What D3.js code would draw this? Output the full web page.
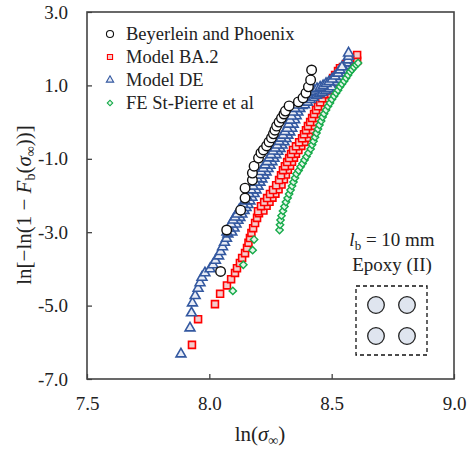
<!DOCTYPE html>
<html>
<head>
<meta charset="utf-8">
<script src="https://cdn.jsdelivr.net/npm/d3@7"></script>
<style>
  body { margin: 0; background: #fff; }
  text { font-family: "Liberation Serif", "Times New Roman", serif; fill: #222; }
</style>
</head>
<body>
<script>
// data: [ln(sigma), ln(-ln(1-F))]
var beyerlein = [[8.046,-4.07],[8.071,-2.94],[8.128,-2.40],[8.146,-2.07],[8.146,-1.80],[8.176,-1.58],
  [8.176,-1.39],[8.183,-1.20],[8.201,-0.98],[8.211,-0.84],[8.221,-0.76],[8.234,-0.65],[8.244,-0.54],
  [8.254,-0.43],[8.262,-0.32],[8.268,-0.22],[8.275,-0.11],[8.285,0.00],[8.295,0.11],[8.305,0.22],
  [8.311,0.30],[8.326,0.44],[8.364,0.55],[8.383,0.66],[8.395,0.79],[8.405,0.96],[8.414,1.15],[8.418,1.42]];

var modelBA2 = [[7.929,-6.07],[7.954,-5.37],[8.023,-4.96],[8.044,-4.68],[8.072,-4.45],[8.089,-4.28],
  [8.105,-4.11],[8.113,-3.98],[8.125,-3.84],[8.134,-3.70],[8.146,-3.57],[8.154,-3.43],[8.160,-3.29],
  [8.166,-3.16],[8.172,-3.02],[8.179,-2.89],[8.187,-2.75],[8.195,-2.61],[8.203,-2.48],[8.215,-2.34],
  [8.228,-2.23],[8.240,-2.12],[8.252,-2.01],[8.264,-1.90],[8.277,-1.77],[8.289,-1.63],[8.297,-1.50],
  [8.305,-1.36],[8.313,-1.25],[8.322,-1.14],[8.330,-1.03],[8.338,-0.92],[8.346,-0.81],[8.358,-0.71],
  [8.371,-0.60],[8.383,-0.49],[8.391,-0.38],[8.399,-0.27],[8.407,-0.16],[8.416,-0.05],[8.424,0.06],
  [8.432,0.17],[8.440,0.28],[8.448,0.38],[8.457,0.49],[8.465,0.60],[8.473,0.71],[8.481,0.82],
  [8.493,0.93],[8.501,1.04],[8.510,1.15],[8.518,1.23],[8.530,1.34],[8.538,1.42],[8.546,1.50],
  [8.559,1.58],[8.571,1.67],[8.583,1.75],[8.604,1.67],[8.604,1.83],
  [8.221,-2.41],[8.234,-2.28],[8.246,-2.17],[8.258,-2.06],[8.270,-1.95],[8.283,-1.83],[8.295,-1.70],
  [8.305,-1.56],[8.313,-1.43],[8.321,-1.30],[8.330,-1.19],[8.338,-1.08],[8.346,-0.97],[8.354,-0.86],
  [8.364,-0.76],[8.376,-0.65],[8.389,-0.54],[8.399,-0.43],[8.407,-0.32],[8.415,-0.21],[8.423,-0.10],
  [8.432,0.00],[8.440,0.11],[8.448,0.22],[8.456,0.33],[8.464,0.43],[8.473,0.54],[8.481,0.65],
  [8.489,0.76],[8.499,0.87],[8.509,0.98],[8.518,1.09],[8.526,1.19],[8.536,1.28],[8.546,1.38],
  [8.199,-2.43],[8.211,-2.29],[8.224,-2.18],[8.236,-2.07],[8.248,-1.96],[8.260,-1.85],[8.273,-1.72],
  [8.285,-1.58],[8.293,-1.45],[8.301,-1.31],[8.309,-1.20],[8.318,-1.09],[8.326,-0.98],[8.334,-0.87],
  [8.342,-0.76],[8.354,-0.66],[8.367,-0.55],[8.379,-0.44],[8.387,-0.33],[8.395,-0.22],[8.403,-0.11],
  [8.412,0.00],[8.420,0.11],[8.428,0.22],[8.436,0.33],[8.444,0.43],[8.453,0.54],[8.461,0.65],
  [8.469,0.76],[8.477,0.87],[8.489,0.98],[8.497,1.09],[8.506,1.20],[8.514,1.28],[8.526,1.39],[8.534,1.47]];

var modelDE = [[7.884,-6.32],[7.921,-5.61],[7.927,-5.20],[7.931,-4.93],[7.942,-4.73],[7.954,-4.53],
  [7.962,-4.38],[7.970,-4.23],[7.982,-4.11],[8.003,-4.00],[8.015,-3.89],[8.025,-3.77],[8.038,-3.65],
  [8.046,-3.53],[8.054,-3.40],[8.062,-3.28],[8.070,-3.17],[8.076,-3.05],[8.085,-2.94],[8.093,-2.83],
  [8.101,-2.72],[8.109,-2.64],[8.117,-2.56],[8.125,-2.45],[8.134,-2.37],[8.142,-2.29],[8.150,-2.20],
  [8.158,-2.10],[8.166,-2.00],[8.175,-1.90],[8.183,-1.80],[8.191,-1.69],[8.199,-1.59],[8.207,-1.50],
  [8.215,-1.40],[8.224,-1.31],[8.232,-1.22],[8.240,-1.13],[8.248,-1.03],[8.256,-0.94],[8.264,-0.84],
  [8.273,-0.76],[8.281,-0.68],[8.289,-0.58],[8.297,-0.49],[8.305,-0.41],[8.313,-0.31],[8.322,-0.22],
  [8.328,-0.11],[8.334,0.00],[8.340,0.11],[8.346,0.22],[8.354,0.32],[8.363,0.41],[8.371,0.49],
  [8.383,0.58],[8.395,0.64],[8.407,0.71],[8.420,0.77],[8.432,0.82],[8.444,0.86],[8.457,0.90],
  [8.469,0.94],[8.481,1.00],[8.493,1.05],[8.506,1.12],[8.518,1.20],[8.530,1.28],[8.538,1.37],
  [8.546,1.45],[8.555,1.53],[8.561,1.61],[8.567,1.69],[8.569,1.79],[8.569,1.88],
  [8.092,-3.00],[8.101,-2.89],[8.109,-2.78],[8.117,-2.68],[8.125,-2.60],[8.133,-2.51],[8.142,-2.41],
  [8.150,-2.33],[8.158,-2.25],[8.166,-2.15],[8.174,-2.05],[8.183,-1.95],[8.191,-1.85],[8.199,-1.75],
  [8.207,-1.64],[8.215,-1.55],[8.223,-1.45],[8.232,-1.36],[8.240,-1.27],[8.248,-1.18],[8.256,-1.08],
  [8.264,-0.99],[8.272,-0.89],[8.280,-0.80],[8.289,-0.72],[8.297,-0.63],[8.305,-0.54],[8.313,-0.45],
  [8.321,-0.36],[8.329,-0.27],[8.337,-0.17],[8.343,-0.06],[8.349,0.06],[8.355,0.17],[8.362,0.27],
  [8.370,0.37],[8.379,0.45],[8.389,0.47],[8.401,0.54],[8.413,0.61],[8.425,0.67],[8.438,0.73],
  [8.450,0.77],[8.462,0.81],[8.475,0.85],[8.487,0.90],[8.499,0.96],[8.511,1.09],[8.524,1.16],
  [8.536,1.24],[8.546,1.33],[8.554,1.41],
  [8.072,-3.00],[8.081,-2.89],[8.089,-2.78],[8.097,-2.67],[8.105,-2.59],[8.113,-2.51],[8.121,-2.40],
  [8.130,-2.32],[8.138,-2.24],[8.146,-2.15],[8.154,-2.05],[8.162,-1.95],[8.171,-1.85],[8.179,-1.75],
  [8.187,-1.64],[8.195,-1.54],[8.203,-1.45],[8.211,-1.35],[8.220,-1.26],[8.228,-1.17],[8.236,-1.08],
  [8.244,-0.98],[8.252,-0.89],[8.260,-0.79],[8.269,-0.71],[8.277,-0.63],[8.285,-0.53],[8.293,-0.44],
  [8.301,-0.36],[8.309,-0.26],[8.318,-0.17],[8.324,-0.06],[8.330,0.05],[8.336,0.16],[8.342,0.27],
  [8.350,0.37],[8.359,0.46],[8.367,0.54],[8.379,0.63],[8.391,0.69],[8.403,0.76],[8.416,0.82],
  [8.428,0.87],[8.440,0.91],[8.453,0.95],[8.465,0.99],[8.477,1.05],[8.489,1.10],[8.502,1.17],
  [8.514,1.25],[8.526,1.33],[8.534,1.42],[8.542,1.50]];

var feStPierre = [[8.096,-4.60],[8.139,-3.89],[8.177,-3.49],[8.183,-3.20],[8.287,-2.94],[8.289,-2.80],
  [8.291,-2.67],[8.295,-2.55],[8.301,-2.42],[8.307,-2.30],[8.313,-2.18],[8.320,-2.07],[8.326,-1.96],
  [8.332,-1.85],[8.338,-1.74],[8.344,-1.63],[8.350,-1.52],[8.356,-1.41],[8.365,-1.32],[8.373,-1.22],
  [8.381,-1.13],[8.389,-1.03],[8.397,-0.94],[8.405,-0.84],[8.414,-0.73],[8.420,-0.62],[8.426,-0.52],
  [8.432,-0.41],[8.438,-0.30],[8.444,-0.19],[8.450,-0.08],[8.457,0.03],[8.463,0.14],[8.469,0.23],
  [8.477,0.33],[8.485,0.43],[8.493,0.52],[8.501,0.62],[8.510,0.71],[8.518,0.79],[8.526,0.87],
  [8.534,0.96],[8.542,1.04],[8.551,1.12],[8.559,1.20],[8.567,1.28],[8.575,1.37],[8.583,1.43],
  [8.591,1.50],[8.600,1.56],[8.608,1.61]];

var xTicks = [7.5, 8.0, 8.5, 9.0];
var yTicks = [3.0, 1.0, -1.0, -3.0, -5.0, -7.0];
var legendNames = ["Beyerlein and Phoenix", "Model BA.2", "Model DE", "FE St-Pierre et al"];

var margin = {top: 12, right: 18, bottom: 77, left: 87};
var width = 472 - margin.left - margin.right;
var height = 456 - margin.top - margin.bottom;

var svg = d3.select("body").append("svg")
  .attr("width", 472)
  .attr("height", 456);

var g = svg.append("g")
  .attr("transform", "translate(" + margin.left + "," + margin.top + ")");

var x = d3.scaleLinear().domain([7.5, 9.0]).range([0, width]);
var y = d3.scaleLinear().domain([-7, 3]).range([height, 0]);

var fmt = function(d) { return d.toFixed(1); };

//axis
var xAxis = g.append("g")
  .attr("transform", "translate(0," + height + ")")
  .call(d3.axisBottom(x).tickValues(xTicks).tickSize(-5).tickPadding(18).tickFormat(fmt));
var yAxis = g.append("g")
  .call(d3.axisLeft(y).tickValues(yTicks).tickSize(-5).tickPadding(19).tickFormat(fmt));

[xAxis, yAxis].forEach(function(a) {
  a.attr("font-family", null);
  a.select(".domain").remove();
  a.selectAll("line").attr("stroke", "#333").attr("stroke-width", 1.2);
  a.selectAll("text").style("font-family", "'Liberation Serif', serif")
    .style("font-size", "19px").attr("fill", "#222");
});

g.append("rect")
  .attr("width", width).attr("height", height)
  .attr("fill", "none").attr("stroke", "#444").attr("stroke-width", 1.6);

// series styles
var series = [
  {data: modelBA2, type: d3.symbolSquare, size: 48, rot: 0, stroke: "#ff0000", fill: "#f3cccc", sw: 1.6},
  {data: modelDE, type: d3.symbolTriangle, size: 42, rot: 0, stroke: "#3358a0", fill: "#e8ecf6", sw: 1.6},
  {data: feStPierre, type: d3.symbolSquare, size: 27, rot: 45, stroke: "#16ab4a", fill: "#e6f6ea", sw: 1.4},
  {data: beyerlein, type: d3.symbolCircle, size: 72, rot: 0, stroke: "#111", fill: "#fff", sw: 1.4}
];

series.forEach(function(s) {
  g.append("g").selectAll("path")
    .data(s.data)
    .enter().append("path")
    .attr("d", d3.symbol().type(s.type).size(s.size))
    .attr("transform", function(d) {
      return "translate(" + x(d[0]) + "," + y(d[1]) + ") rotate(" + s.rot + ")";
    })
    .attr("fill", s.fill)
    .attr("stroke", s.stroke)
    .attr("stroke-width", s.sw);
});

// legend
var legendStyle = [series[3], series[0], series[1], series[2]];
var legend = g.append("g").attr("transform", "translate(23,22)");
legendNames.forEach(function(name, i) {
  var s = legendStyle[i];
  legend.append("path")
    .attr("d", d3.symbol().type(s.type).size(s.size * 0.55))
    .attr("transform", "translate(0," + (i * 23) + ") rotate(" + s.rot + ")")
    .attr("fill", s.fill).attr("stroke", s.stroke).attr("stroke-width", 1.1);
  legend.append("text")
    .attr("x", 16).attr("y", i * 23).attr("dy", "0.35em")
    .style("font-size", "18.5px")
    .text(name);
});

// axis titles
svg.append("text")
  .attr("x", 260).attr("y", 441)
  .attr("text-anchor", "middle")
  .style("font-size", "21px")
  .html("ln(<tspan font-style='italic'>σ</tspan><tspan font-size='14px' dy='4'>∞</tspan><tspan dy='-4'>)</tspan>");

svg.append("text")
  .attr("transform", "translate(31,205) rotate(-90)")
  .attr("text-anchor", "middle")
  .style("font-size", "21px")
  .html("ln[−ln(1 − <tspan font-style='italic'>F</tspan><tspan font-size='14px' dy='4'>b</tspan>" +
    "<tspan dy='-4'>(</tspan><tspan font-style='italic'>σ</tspan><tspan font-size='14px' dy='4'>∞</tspan><tspan dy='-4'>))]</tspan>");

// inset annotation
var inset = g.append("g").attr("transform", "translate(" + (width - 62) + ",0)");
inset.append("text")
  .attr("x", 0).attr("y", 234).attr("text-anchor", "middle")
  .style("font-size", "19px")
  .html("<tspan font-style='italic'>l</tspan><tspan font-size='13px' dy='4'>b</tspan><tspan dy='-4'> = 10 mm</tspan>");
inset.append("text")
  .attr("x", 0).attr("y", 259).attr("text-anchor", "middle")
  .style("font-size", "19px")
  .text("Epoxy (II)");
inset.append("rect")
  .attr("x", -36).attr("y", 274).attr("width", 71).attr("height", 69)
  .attr("fill", "none").attr("stroke", "#111").attr("stroke-width", 1.3)
  .attr("stroke-dasharray", "4,3");
[[-16, 293], [15, 293], [-16, 324], [15, 324]].forEach(function(c) {
  inset.append("circle")
    .attr("cx", c[0]).attr("cy", c[1]).attr("r", 8.3)
    .attr("fill", "#dfe5ef").attr("stroke", "#222").attr("stroke-width", 1.3);
});
</script>
</body>
</html>
